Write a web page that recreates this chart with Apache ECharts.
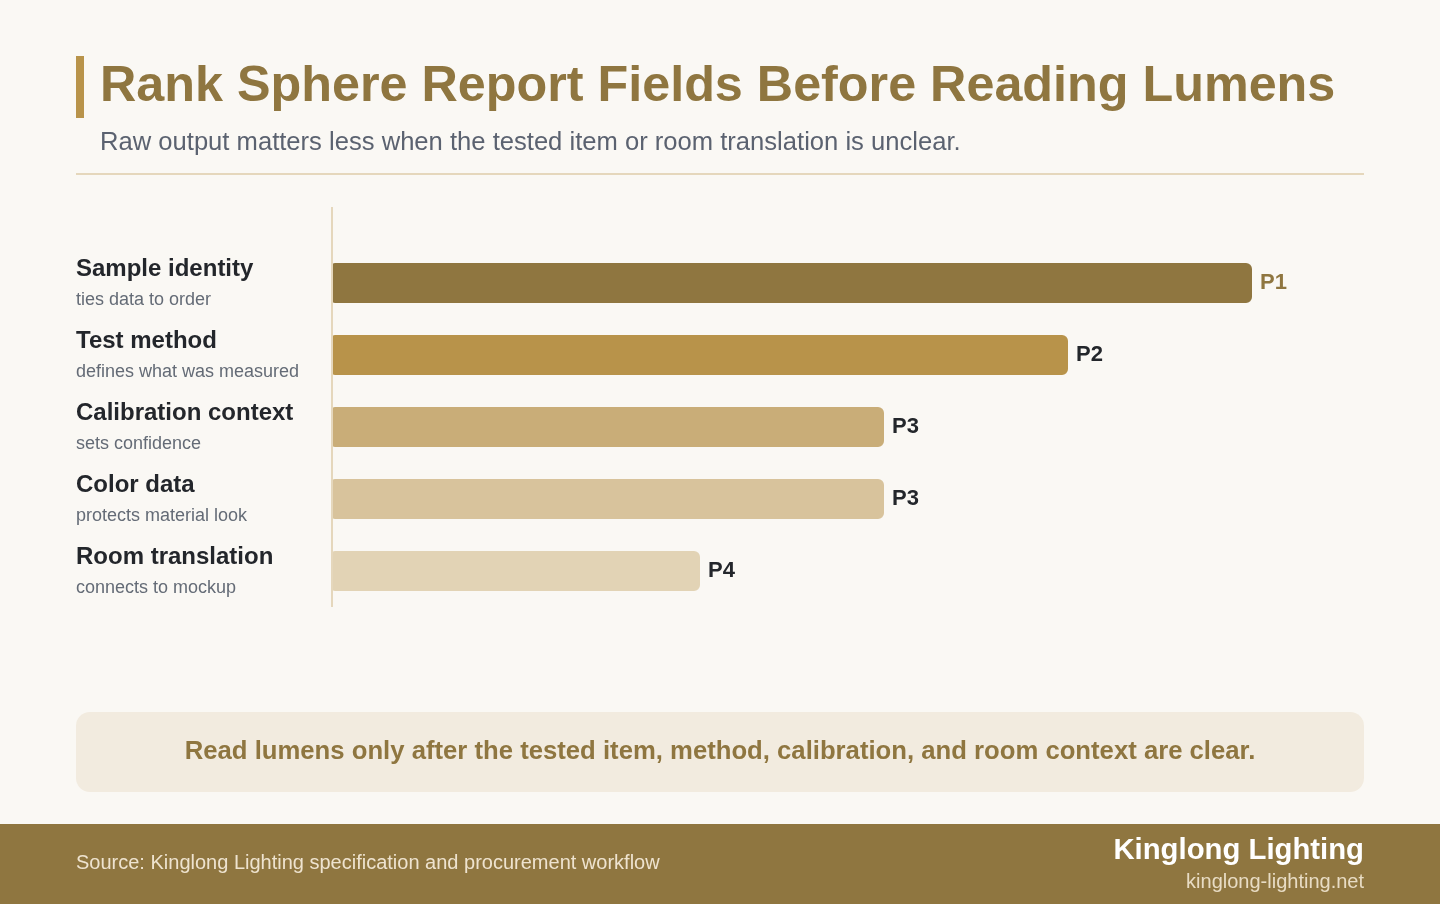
<!DOCTYPE html>
<html>
<head>
<meta charset="utf-8">
<script src="https://cdn.jsdelivr.net/npm/echarts@6/dist/echarts.min.js"></script>
<style>
  html, body { margin: 0; padding: 0; background: #faf8f4; }
  #chart { width: 1440px; height: 904px; }
</style>
</head>
<body>
<div id="chart"></div>
<script>
// data
var fields = ["Sample identity", "Test method", "Calibration context", "Color data", "Room translation"];
var notes = ["ties data to order", "defines what was measured", "sets confidence", "protects material look", "connects to mockup"];
var scores = [100, 80, 60, 60, 40];
var ranks = ["P1", "P2", "P3", "P3", "P4"];
var barColors = ["#8f7640", "#b8934a", "#c9ad78", "#d8c39c", "#e2d3b5"];

var FONT = "'Liberation Sans', Arial, Helvetica, sans-serif";

var chart = echarts.init(document.getElementById("chart"));

var option = {
  backgroundColor: "#faf8f4",
  textStyle: { fontFamily: FONT },
  title: [
    {
      text: "Rank Sphere Report Fields Before Reading Lumens",
      left: 100, top: 62, padding: 0,
      textStyle: { fontFamily: FONT, fontSize: 50.3, fontWeight: "bold", color: "#8f7640" }
    },
    {
      text: "Raw output matters less when the tested item or room translation is unclear.",
      left: 100, top: 130, padding: 0,
      textStyle: { fontFamily: FONT, fontSize: 25.6, fontWeight: "normal", color: "#5b6270" }
    }
  ],
  grid: { left: 332, right: 188, top: 247, bottom: 297, containLabel: false },
  xAxis: {
    type: "value", min: 0, max: 100,
    show: false
  },
  yAxis: {
    type: "category",
    inverse: true,
    data: fields,
    axisLine: { show: false },
    axisTick: { show: false },
    axisLabel: {
      align: "left",
      margin: 256,
      formatter: function (v, i) {
        return "{name|" + v + "}\n{note|" + notes[i] + "}";
      },
      rich: {
        name: { fontFamily: FONT, fontSize: 24, fontWeight: "bold", color: "#23262b", lineHeight: 34 },
        note: { fontFamily: FONT, fontSize: 18, color: "#646b76", lineHeight: 28 }
      }
    }
  },
  series: [
    {
      type: "bar",
      barWidth: 40,
      data: scores.map(function (v, i) {
        return {
          value: v,
          itemStyle: { color: barColors[i], borderRadius: [3, 6, 6, 3] },
          label: { color: i === 0 ? "#8f7640" : "#23262b" }
        };
      }),
      label: {
        show: true,
        position: "right",
        distance: 8,
        fontFamily: FONT,
        fontSize: 22,
        fontWeight: "bold",
        formatter: function (p) { return ranks[p.dataIndex]; }
      },
      silent: true
    }
  ],
  graphic: [
    // accent bar beside title
    { type: "rect", shape: { x: 76, y: 56, width: 8, height: 62 }, style: { fill: "#b8934a" } },
    // divider
    { type: "rect", shape: { x: 76, y: 173, width: 1288, height: 2 }, style: { fill: "#e5d7bc" } },
    // vertical axis rule
    { type: "rect", shape: { x: 331, y: 207, width: 2, height: 400 }, style: { fill: "#e5d7bc" }, z: 10 },
    // callout
    { type: "rect", shape: { x: 76, y: 712, width: 1288, height: 80, r: 14 }, style: { fill: "#f2ebdf" } },
    {
      type: "text", x: 720, y: 752,
      style: {
        text: "Read lumens only after the tested item, method, calibration, and room context are clear.",
        font: "bold 25.7px " + FONT, fill: "#8f7640", align: "center", verticalAlign: "middle"
      }
    },
    // footer band
    { type: "rect", shape: { x: 0, y: 824, width: 1440, height: 80 }, style: { fill: "#8f7640" } },
    {
      type: "text", x: 76, y: 863,
      style: {
        text: "Source: Kinglong Lighting specification and procurement workflow",
        font: "20px " + FONT, fill: "#eee3cf", align: "left", verticalAlign: "middle"
      }
    },
    {
      type: "text", x: 1364, y: 851,
      style: {
        text: "Kinglong Lighting",
        font: "bold 29.3px " + FONT, fill: "#ffffff", align: "right", verticalAlign: "middle"
      }
    },
    {
      type: "text", x: 1364, y: 882,
      style: {
        text: "kinglong-lighting.net",
        font: "20px " + FONT, fill: "#e8dcc4", align: "right", verticalAlign: "middle"
      }
    }
  ]
};

chart.setOption(option);
</script>
</body>
</html>
